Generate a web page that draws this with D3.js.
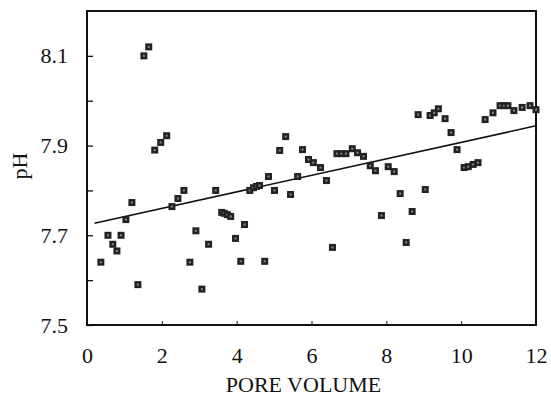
<!DOCTYPE html>
<html>
<head>
<meta charset="utf-8">
<script src="https://cdn.jsdelivr.net/npm/d3@7"></script>
<style>
  body { margin: 0; background: #fff; }
  text { font-family: "Liberation Serif", "Times New Roman", serif; fill: #111; }
</style>
</head>
<body>
<svg id="chart" width="551" height="398"></svg>
<script>
var poreVolume = [0.37, 0.56, 0.69, 0.80, 0.91, 1.04, 1.20, 1.36, 1.52, 1.65,
  1.81, 1.97, 2.13, 2.27, 2.43, 2.59, 2.75, 2.91, 3.07, 3.25,
  3.44, 3.60, 3.67, 3.75, 3.84, 3.97, 4.11, 4.21, 4.35, 4.45,
  4.53, 4.61, 4.75, 4.85, 5.01, 5.15, 5.31, 5.44, 5.63, 5.76,
  5.92, 6.05, 6.24, 6.40, 6.56, 6.68, 6.80, 6.92, 7.09, 7.23,
  7.39, 7.57, 7.71, 7.87, 8.05, 8.21, 8.37, 8.53, 8.69, 8.85,
  9.04, 9.17, 9.28, 9.39, 9.57, 9.73, 9.89, 10.08, 10.19, 10.32,
  10.45, 10.64, 10.85, 11.04, 11.15, 11.25, 11.41, 11.63, 11.84, 12.0];
var pH = [7.64, 7.70, 7.68, 7.665, 7.70, 7.735, 7.773, 7.59, 8.10, 8.12,
  7.89, 7.907, 7.922, 7.764, 7.782, 7.80, 7.64, 7.71, 7.58, 7.68,
  7.80, 7.751, 7.749, 7.746, 7.742, 7.693, 7.642, 7.724, 7.80, 7.806,
  7.809, 7.811, 7.642, 7.831, 7.80, 7.889, 7.92, 7.791, 7.831, 7.891,
  7.869, 7.862, 7.851, 7.822, 7.673, 7.882, 7.882, 7.882, 7.893, 7.884,
  7.876, 7.855, 7.844, 7.744, 7.853, 7.842, 7.793, 7.684, 7.753, 7.969,
  7.802, 7.967, 7.973, 7.982, 7.96, 7.929, 7.891, 7.851, 7.853, 7.858,
  7.862, 7.958, 7.973, 7.989, 7.989, 7.989, 7.978, 7.985, 7.989, 7.98];

// regression line end points
var fitX = [0.2, 12];
var fitY = [7.727, 7.944];

var xTicks = [0, 2, 4, 6, 8, 10, 12];
var yTicks = [7.5, 7.7, 7.9, 8.1];
var yMinor = [7.6, 7.8, 8.0];

var svg = d3.select("#chart"),
    margin = {top: 11, right: 15, bottom: 73, left: 87},
    width = 551 - margin.left - margin.right,
    height = 398 - margin.top - margin.bottom,
    g = svg.append("g").attr("transform", "translate(" + margin.left + "," + margin.top + ")");

var x = d3.scaleLinear().domain([0, 12]).range([0, width]);
var y = d3.scaleLinear().domain([7.5, 8.2]).range([height, 0]);

// frame
g.append("rect")
    .attr("width", width)
    .attr("height", height)
    .attr("fill", "none")
    .attr("stroke", "#111")
    .attr("stroke-width", 2);

// left axis: inward ticks, labels on odd tenths
var yAxis = d3.axisLeft(y)
    .tickValues(yTicks.concat(yMinor))
    .tickSizeInner(-6)
    .tickSizeOuter(0)
    .tickPadding(19)
    .tickFormat(function(d) { return yTicks.indexOf(d) >= 0 ? d3.format(".1f")(d) : ""; });

var ya = g.append("g").call(yAxis);
ya.select(".domain").remove();
ya.selectAll("line").attr("stroke", "#111").attr("stroke-width", 1.3);
ya.selectAll("text")
    .style("font-family", "'Liberation Serif', serif")
    .style("font-size", "22px")
    .attr("fill", "#111");

var xAxis = d3.axisBottom(x)
    .tickValues(xTicks)
    .tickSizeInner(-4)
    .tickSizeOuter(0)
    .tickPadding(22)
    .tickFormat(d3.format("d"));

var xa = g.append("g")
    .attr("transform", "translate(0," + height + ")")
    .call(xAxis);
xa.select(".domain").remove();
xa.selectAll("line").attr("stroke", "#111").attr("stroke-width", 1);
xa.selectAll("text")
    .style("font-family", "'Liberation Serif', serif")
    .style("font-size", "22px")
    .attr("fill", "#111");

// axis titles
svg.append("text")
    .attr("x", margin.left + width / 2 - 8)
    .attr("y", 392)
    .attr("text-anchor", "middle")
    .style("font-size", "22px")
    .text("PORE VOLUME");

svg.append("text")
    .attr("transform", "translate(27,166) rotate(-90)")
    .attr("text-anchor", "middle")
    .style("font-size", "22px")
    .text("pH");

// fitted line
var line = d3.line()
    .x(function(d) { return x(d[0]); })
    .y(function(d) { return y(d[1]); });

g.append("path")
    .datum(d3.zip(fitX, fitY))
    .attr("fill", "none")
    .attr("stroke", "#111")
    .attr("stroke-width", 1.6)
    .attr("d", line);

// square markers
var pts = d3.zip(poreVolume, pH);
var mk = g.append("g").selectAll("g")
    .data(pts)
    .enter().append("g")
    .attr("transform", function(d) { return "translate(" + x(d[0]) + "," + y(d[1]) + ")"; });

mk.append("rect")
    .attr("x", -3.5).attr("y", -3.5)
    .attr("width", 7).attr("height", 7)
    .attr("fill", "#222");

mk.append("rect")
    .attr("x", -1).attr("y", -1)
    .attr("width", 2).attr("height", 2)
    .attr("fill", "#888");
</script>
</body>
</html>
